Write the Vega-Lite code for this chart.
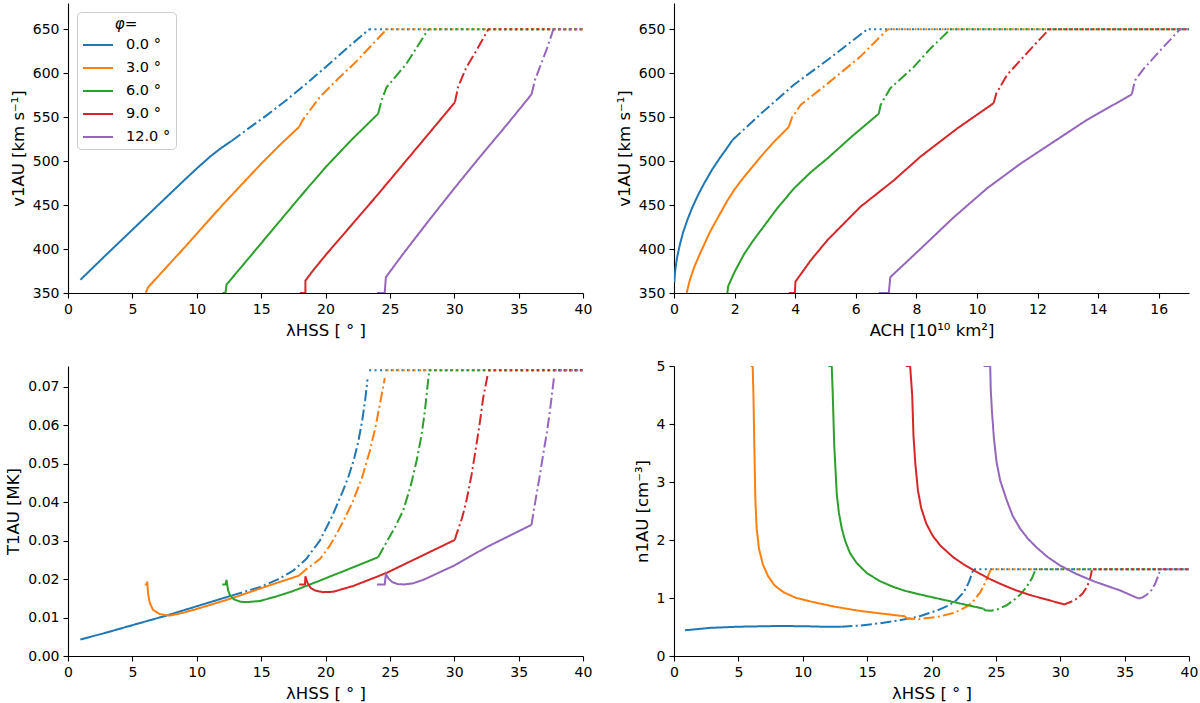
{
  "$schema": "https://vega.github.io/schema/vega-lite/v6.json",
  "padding": {"left": 5, "top": 3, "right": 0, "bottom": 0},
  "background": "white",
  "data": {"values": [
    {"p":"v","s":"0.0 °","k":"solid","x":0.96,"y":365},{"p":"v","s":"0.0 °","k":"solid","x":3,"y":394},{"p":"v","s":"0.0 °","k":"solid","x":5,"y":422},{"p":"v","s":"0.0 °","k":"solid","x":7,"y":450},{"p":"v","s":"0.0 °","k":"solid","x":9,"y":478},{"p":"v","s":"0.0 °","k":"solid","x":10.1,"y":493},{"p":"v","s":"0.0 °","k":"solid","x":11.1,"y":506},{"p":"v","s":"0.0 °","k":"solid","x":11.9,"y":515},{"p":"v","s":"0.0 °","k":"solid","x":12.7,"y":523},
    {"p":"v","s":"0.0 °","k":"dashdot","x":12.7,"y":523},{"p":"v","s":"0.0 °","k":"dashdot","x":14,"y":537},{"p":"v","s":"0.0 °","k":"dashdot","x":15.5,"y":553},{"p":"v","s":"0.0 °","k":"dashdot","x":17,"y":570},{"p":"v","s":"0.0 °","k":"dashdot","x":18.5,"y":588},{"p":"v","s":"0.0 °","k":"dashdot","x":20,"y":607},{"p":"v","s":"0.0 °","k":"dashdot","x":21.7,"y":629},{"p":"v","s":"0.0 °","k":"dashdot","x":23.39,"y":650},
    {"p":"v","s":"0.0 °","k":"dotted","x":23.39,"y":650},{"p":"v","s":"0.0 °","k":"dotted","x":40,"y":650},
    {"p":"v","s":"3.0 °","k":"solid","x":6.04,"y":350},{"p":"v","s":"3.0 °","k":"solid","x":6.22,"y":356.5},{"p":"v","s":"3.0 °","k":"solid","x":7,"y":369},{"p":"v","s":"3.0 °","k":"solid","x":9,"y":401},{"p":"v","s":"3.0 °","k":"solid","x":12.05,"y":451},{"p":"v","s":"3.0 °","k":"solid","x":15,"y":497},{"p":"v","s":"3.0 °","k":"solid","x":16.5,"y":519},{"p":"v","s":"3.0 °","k":"solid","x":17.95,"y":539},
    {"p":"v","s":"3.0 °","k":"dashdot","x":17.95,"y":539},{"p":"v","s":"3.0 °","k":"dashdot","x":18.2,"y":546},{"p":"v","s":"3.0 °","k":"dashdot","x":18.39,"y":550},{"p":"v","s":"3.0 °","k":"dashdot","x":19.56,"y":573},{"p":"v","s":"3.0 °","k":"dashdot","x":21,"y":594},{"p":"v","s":"3.0 °","k":"dashdot","x":22.5,"y":615},{"p":"v","s":"3.0 °","k":"dashdot","x":24.74,"y":650},
    {"p":"v","s":"3.0 °","k":"dotted","x":24.74,"y":650},{"p":"v","s":"3.0 °","k":"dotted","x":40,"y":650},
    {"p":"v","s":"6.0 °","k":"solid","x":12.0,"y":350},{"p":"v","s":"6.0 °","k":"solid","x":12.23,"y":350},{"p":"v","s":"6.0 °","k":"solid","x":12.31,"y":359.5},{"p":"v","s":"6.0 °","k":"solid","x":14,"y":389},{"p":"v","s":"6.0 °","k":"solid","x":16,"y":424},{"p":"v","s":"6.0 °","k":"solid","x":18,"y":459},{"p":"v","s":"6.0 °","k":"solid","x":20,"y":493},{"p":"v","s":"6.0 °","k":"solid","x":22,"y":524},{"p":"v","s":"6.0 °","k":"solid","x":24.09,"y":554},
    {"p":"v","s":"6.0 °","k":"dashdot","x":24.09,"y":554},{"p":"v","s":"6.0 °","k":"dashdot","x":24.35,"y":569},{"p":"v","s":"6.0 °","k":"dashdot","x":24.74,"y":584},{"p":"v","s":"6.0 °","k":"dashdot","x":26.29,"y":611},{"p":"v","s":"6.0 °","k":"dashdot","x":27.98,"y":650},
    {"p":"v","s":"6.0 °","k":"dotted","x":27.98,"y":650},{"p":"v","s":"6.0 °","k":"dotted","x":40,"y":650},
    {"p":"v","s":"9.0 °","k":"solid","x":18.0,"y":350},{"p":"v","s":"9.0 °","k":"solid","x":18.44,"y":350},{"p":"v","s":"9.0 °","k":"solid","x":18.44,"y":364},{"p":"v","s":"9.0 °","k":"solid","x":19,"y":375},{"p":"v","s":"9.0 °","k":"solid","x":20,"y":393},{"p":"v","s":"9.0 °","k":"solid","x":22,"y":427},{"p":"v","s":"9.0 °","k":"solid","x":24,"y":461},{"p":"v","s":"9.0 °","k":"solid","x":26,"y":496},{"p":"v","s":"9.0 °","k":"solid","x":28,"y":531},{"p":"v","s":"9.0 °","k":"solid","x":30.05,"y":567},
    {"p":"v","s":"9.0 °","k":"dashdot","x":30.05,"y":567},{"p":"v","s":"9.0 °","k":"dashdot","x":30.31,"y":585},{"p":"v","s":"9.0 °","k":"dashdot","x":30.95,"y":607},{"p":"v","s":"9.0 °","k":"dashdot","x":31.8,"y":628},{"p":"v","s":"9.0 °","k":"dashdot","x":32.64,"y":650},
    {"p":"v","s":"9.0 °","k":"dotted","x":32.64,"y":650},{"p":"v","s":"9.0 °","k":"dotted","x":40,"y":650},
    {"p":"v","s":"12.0 °","k":"solid","x":24.0,"y":350},{"p":"v","s":"12.0 °","k":"solid","x":24.6,"y":350},{"p":"v","s":"12.0 °","k":"solid","x":24.69,"y":368},{"p":"v","s":"12.0 °","k":"solid","x":26,"y":394},{"p":"v","s":"12.0 °","k":"solid","x":28,"y":432},{"p":"v","s":"12.0 °","k":"solid","x":30,"y":469},{"p":"v","s":"12.0 °","k":"solid","x":32,"y":505},{"p":"v","s":"12.0 °","k":"solid","x":34,"y":540},{"p":"v","s":"12.0 °","k":"solid","x":36.0,"y":576},
    {"p":"v","s":"12.0 °","k":"dashdot","x":36.0,"y":576},{"p":"v","s":"12.0 °","k":"dashdot","x":36.26,"y":592},{"p":"v","s":"12.0 °","k":"dashdot","x":36.65,"y":607},{"p":"v","s":"12.0 °","k":"dashdot","x":37.2,"y":628},{"p":"v","s":"12.0 °","k":"dashdot","x":37.7,"y":650},
    {"p":"v","s":"12.0 °","k":"dotted","x":37.7,"y":650},{"p":"v","s":"12.0 °","k":"dotted","x":40,"y":650},

    {"p":"a","s":"0.0 °","k":"solid","x":0.01,"y":362},{"p":"a","s":"0.0 °","k":"solid","x":0.03,"y":372},{"p":"a","s":"0.0 °","k":"solid","x":0.06,"y":381},{"p":"a","s":"0.0 °","k":"solid","x":0.1,"y":390},{"p":"a","s":"0.0 °","k":"solid","x":0.2,"y":406},{"p":"a","s":"0.0 °","k":"solid","x":0.3,"y":419},{"p":"a","s":"0.0 °","k":"solid","x":0.45,"y":434},{"p":"a","s":"0.0 °","k":"solid","x":0.6,"y":447},{"p":"a","s":"0.0 °","k":"solid","x":0.8,"y":462},{"p":"a","s":"0.0 °","k":"solid","x":1.0,"y":475},{"p":"a","s":"0.0 °","k":"solid","x":1.25,"y":490},{"p":"a","s":"0.0 °","k":"solid","x":1.5,"y":503},{"p":"a","s":"0.0 °","k":"solid","x":1.75,"y":515},{"p":"a","s":"0.0 °","k":"solid","x":1.93,"y":524},
    {"p":"a","s":"0.0 °","k":"dashdot","x":1.93,"y":524},{"p":"a","s":"0.0 °","k":"dashdot","x":2.9,"y":555},{"p":"a","s":"0.0 °","k":"dashdot","x":3.96,"y":587},{"p":"a","s":"0.0 °","k":"dashdot","x":5.1,"y":616},{"p":"a","s":"0.0 °","k":"dashdot","x":6.3,"y":648},{"p":"a","s":"0.0 °","k":"dashdot","x":6.43,"y":650},
    {"p":"a","s":"0.0 °","k":"dotted","x":6.43,"y":650},{"p":"a","s":"0.0 °","k":"dotted","x":17,"y":650},
    {"p":"a","s":"3.0 °","k":"solid","x":0.42,"y":350},{"p":"a","s":"3.0 °","k":"solid","x":0.5,"y":362},{"p":"a","s":"3.0 °","k":"solid","x":0.66,"y":379},{"p":"a","s":"3.0 °","k":"solid","x":0.9,"y":398},{"p":"a","s":"3.0 °","k":"solid","x":1.21,"y":421},{"p":"a","s":"3.0 °","k":"solid","x":1.5,"y":439},{"p":"a","s":"3.0 °","k":"solid","x":1.76,"y":455},{"p":"a","s":"3.0 °","k":"solid","x":2.0,"y":468},{"p":"a","s":"3.0 °","k":"solid","x":2.31,"y":482},{"p":"a","s":"3.0 °","k":"solid","x":2.6,"y":494},{"p":"a","s":"3.0 °","k":"solid","x":2.86,"y":505},{"p":"a","s":"3.0 °","k":"solid","x":3.3,"y":522},{"p":"a","s":"3.0 °","k":"solid","x":3.79,"y":539},
    {"p":"a","s":"3.0 °","k":"dashdot","x":3.79,"y":539},{"p":"a","s":"3.0 °","k":"dashdot","x":3.9,"y":550},{"p":"a","s":"3.0 °","k":"dashdot","x":4.18,"y":564},{"p":"a","s":"3.0 °","k":"dashdot","x":5.06,"y":588},{"p":"a","s":"3.0 °","k":"dashdot","x":6.15,"y":619},{"p":"a","s":"3.0 °","k":"dashdot","x":7.05,"y":650},
    {"p":"a","s":"3.0 °","k":"dotted","x":7.05,"y":650},{"p":"a","s":"3.0 °","k":"dotted","x":17,"y":650},
    {"p":"a","s":"6.0 °","k":"solid","x":1.76,"y":350},{"p":"a","s":"6.0 °","k":"solid","x":1.79,"y":358},{"p":"a","s":"6.0 °","k":"solid","x":2.0,"y":374},{"p":"a","s":"6.0 °","k":"solid","x":2.31,"y":394},{"p":"a","s":"6.0 °","k":"solid","x":2.6,"y":409},{"p":"a","s":"6.0 °","k":"solid","x":2.86,"y":421},{"p":"a","s":"6.0 °","k":"solid","x":3.4,"y":446},{"p":"a","s":"6.0 °","k":"solid","x":3.96,"y":469},{"p":"a","s":"6.0 °","k":"solid","x":4.5,"y":487},{"p":"a","s":"6.0 °","k":"solid","x":5.06,"y":503},{"p":"a","s":"6.0 °","k":"solid","x":5.9,"y":529},{"p":"a","s":"6.0 °","k":"solid","x":6.76,"y":554},
    {"p":"a","s":"6.0 °","k":"dashdot","x":6.76,"y":554},{"p":"a","s":"6.0 °","k":"dashdot","x":6.82,"y":564},{"p":"a","s":"6.0 °","k":"dashdot","x":7.14,"y":583},{"p":"a","s":"6.0 °","k":"dashdot","x":7.91,"y":607},{"p":"a","s":"6.0 °","k":"dashdot","x":8.46,"y":628},{"p":"a","s":"6.0 °","k":"dashdot","x":9.12,"y":650},
    {"p":"a","s":"6.0 °","k":"dotted","x":9.12,"y":650},{"p":"a","s":"6.0 °","k":"dotted","x":17,"y":650},
    {"p":"a","s":"9.0 °","k":"solid","x":3.79,"y":350},{"p":"a","s":"9.0 °","k":"solid","x":3.99,"y":350},{"p":"a","s":"9.0 °","k":"solid","x":4.01,"y":363},{"p":"a","s":"9.0 °","k":"solid","x":4.51,"y":387},{"p":"a","s":"9.0 °","k":"solid","x":5.06,"y":410},{"p":"a","s":"9.0 °","k":"solid","x":6.15,"y":448},{"p":"a","s":"9.0 °","k":"solid","x":7.25,"y":478},{"p":"a","s":"9.0 °","k":"solid","x":8.13,"y":505},{"p":"a","s":"9.0 °","k":"solid","x":9.34,"y":537},{"p":"a","s":"9.0 °","k":"solid","x":10.55,"y":566},
    {"p":"a","s":"9.0 °","k":"dashdot","x":10.55,"y":566},{"p":"a","s":"9.0 °","k":"dashdot","x":10.64,"y":577},{"p":"a","s":"9.0 °","k":"dashdot","x":10.99,"y":598},{"p":"a","s":"9.0 °","k":"dashdot","x":11.65,"y":623},{"p":"a","s":"9.0 °","k":"dashdot","x":12.38,"y":650},
    {"p":"a","s":"9.0 °","k":"dotted","x":12.38,"y":650},{"p":"a","s":"9.0 °","k":"dotted","x":17,"y":650},
    {"p":"a","s":"12.0 °","k":"solid","x":6.76,"y":350},{"p":"a","s":"12.0 °","k":"solid","x":7.09,"y":350},{"p":"a","s":"12.0 °","k":"solid","x":7.14,"y":368},{"p":"a","s":"12.0 °","k":"solid","x":8.13,"y":400},{"p":"a","s":"12.0 °","k":"solid","x":9.23,"y":436},{"p":"a","s":"12.0 °","k":"solid","x":10.33,"y":469},{"p":"a","s":"12.0 °","k":"solid","x":11.43,"y":497},{"p":"a","s":"12.0 °","k":"solid","x":12.53,"y":522},{"p":"a","s":"12.0 °","k":"solid","x":13.63,"y":547},{"p":"a","s":"12.0 °","k":"solid","x":15.11,"y":576},
    {"p":"a","s":"12.0 °","k":"dashdot","x":15.11,"y":576},{"p":"a","s":"12.0 °","k":"dashdot","x":15.22,"y":592},{"p":"a","s":"12.0 °","k":"dashdot","x":15.5,"y":605},{"p":"a","s":"12.0 °","k":"dashdot","x":16.05,"y":626},{"p":"a","s":"12.0 °","k":"dashdot","x":16.7,"y":650},
    {"p":"a","s":"12.0 °","k":"dotted","x":16.7,"y":650},{"p":"a","s":"12.0 °","k":"dotted","x":17,"y":650},

    {"p":"t","s":"0.0 °","k":"solid","x":0.96,"y":0.0043},{"p":"t","s":"0.0 °","k":"solid","x":3,"y":0.0061},{"p":"t","s":"0.0 °","k":"solid","x":4.98,"y":0.008},{"p":"t","s":"0.0 °","k":"solid","x":7.64,"y":0.0105},{"p":"t","s":"0.0 °","k":"solid","x":9.97,"y":0.0129},{"p":"t","s":"0.0 °","k":"solid","x":12.7,"y":0.0157},
    {"p":"t","s":"0.0 °","k":"dashdot","x":12.7,"y":0.0157},{"p":"t","s":"0.0 °","k":"dashdot","x":14.9,"y":0.0179},{"p":"t","s":"0.0 °","k":"dashdot","x":16.3,"y":0.0199},{"p":"t","s":"0.0 °","k":"dashdot","x":17.49,"y":0.0222},{"p":"t","s":"0.0 °","k":"dashdot","x":18.5,"y":0.0252},{"p":"t","s":"0.0 °","k":"dashdot","x":19.56,"y":0.03},{"p":"t","s":"0.0 °","k":"dashdot","x":20.5,"y":0.0362},{"p":"t","s":"0.0 °","k":"dashdot","x":21.3,"y":0.0425},{"p":"t","s":"0.0 °","k":"dashdot","x":21.8,"y":0.0468},{"p":"t","s":"0.0 °","k":"dashdot","x":22.2,"y":0.051},{"p":"t","s":"0.0 °","k":"dashdot","x":22.55,"y":0.0558},{"p":"t","s":"0.0 °","k":"dashdot","x":22.85,"y":0.0612},{"p":"t","s":"0.0 °","k":"dashdot","x":23.08,"y":0.0665},{"p":"t","s":"0.0 °","k":"dashdot","x":23.26,"y":0.0719},
    {"p":"t","s":"0.0 °","k":"dotted","x":23.39,"y":0.0743},{"p":"t","s":"0.0 °","k":"dotted","x":40,"y":0.0743},
    {"p":"t","s":"3.0 °","k":"solid","x":5.97,"y":0.0186},{"p":"t","s":"3.0 °","k":"solid","x":6.15,"y":0.0186},{"p":"t","s":"3.0 °","k":"solid","x":6.15,"y":0.0194},{"p":"t","s":"3.0 °","k":"solid","x":6.22,"y":0.0162},{"p":"t","s":"3.0 °","k":"solid","x":6.35,"y":0.0138},{"p":"t","s":"3.0 °","k":"solid","x":6.6,"y":0.012},{"p":"t","s":"3.0 °","k":"solid","x":7.12,"y":0.0109},{"p":"t","s":"3.0 °","k":"solid","x":7.9,"y":0.0105},{"p":"t","s":"3.0 °","k":"solid","x":8.9,"y":0.0112},{"p":"t","s":"3.0 °","k":"solid","x":9.97,"y":0.0122},{"p":"t","s":"3.0 °","k":"solid","x":12.82,"y":0.0151},{"p":"t","s":"3.0 °","k":"solid","x":15.41,"y":0.0181},{"p":"t","s":"3.0 °","k":"solid","x":17.95,"y":0.0209},
    {"p":"t","s":"3.0 °","k":"dashdot","x":17.95,"y":0.0209},{"p":"t","s":"3.0 °","k":"dashdot","x":18.52,"y":0.0226},{"p":"t","s":"3.0 °","k":"dashdot","x":19.56,"y":0.0252},{"p":"t","s":"3.0 °","k":"dashdot","x":20.3,"y":0.0285},{"p":"t","s":"3.0 °","k":"dashdot","x":20.85,"y":0.0317},{"p":"t","s":"3.0 °","k":"dashdot","x":21.5,"y":0.0358},{"p":"t","s":"3.0 °","k":"dashdot","x":22.15,"y":0.0404},{"p":"t","s":"3.0 °","k":"dashdot","x":22.85,"y":0.0465},{"p":"t","s":"3.0 °","k":"dashdot","x":23.44,"y":0.0533},{"p":"t","s":"3.0 °","k":"dashdot","x":23.9,"y":0.0598},{"p":"t","s":"3.0 °","k":"dashdot","x":24.22,"y":0.0654},{"p":"t","s":"3.0 °","k":"dashdot","x":24.61,"y":0.0723},
    {"p":"t","s":"3.0 °","k":"dotted","x":24.74,"y":0.0743},{"p":"t","s":"3.0 °","k":"dotted","x":40,"y":0.0743},
    {"p":"t","s":"6.0 °","k":"solid","x":11.98,"y":0.0186},{"p":"t","s":"6.0 °","k":"solid","x":12.23,"y":0.0186},{"p":"t","s":"6.0 °","k":"solid","x":12.31,"y":0.0198},{"p":"t","s":"6.0 °","k":"solid","x":12.44,"y":0.017},{"p":"t","s":"6.0 °","k":"solid","x":12.6,"y":0.0157},{"p":"t","s":"6.0 °","k":"solid","x":12.9,"y":0.0147},{"p":"t","s":"6.0 °","k":"solid","x":13.4,"y":0.0141},{"p":"t","s":"6.0 °","k":"solid","x":13.86,"y":0.014},{"p":"t","s":"6.0 °","k":"solid","x":14.9,"y":0.0143},{"p":"t","s":"6.0 °","k":"solid","x":16.2,"y":0.0155},{"p":"t","s":"6.0 °","k":"solid","x":17.49,"y":0.0169},{"p":"t","s":"6.0 °","k":"solid","x":19.56,"y":0.0196},{"p":"t","s":"6.0 °","k":"solid","x":21.8,"y":0.0226},{"p":"t","s":"6.0 °","k":"solid","x":24.09,"y":0.0257},
    {"p":"t","s":"6.0 °","k":"dashdot","x":24.09,"y":0.0257},{"p":"t","s":"6.0 °","k":"dashdot","x":24.74,"y":0.0296},{"p":"t","s":"6.0 °","k":"dashdot","x":25.4,"y":0.0335},{"p":"t","s":"6.0 °","k":"dashdot","x":26.03,"y":0.0378},{"p":"t","s":"6.0 °","k":"dashdot","x":26.6,"y":0.044},{"p":"t","s":"6.0 °","k":"dashdot","x":27.07,"y":0.0507},{"p":"t","s":"6.0 °","k":"dashdot","x":27.45,"y":0.0572},{"p":"t","s":"6.0 °","k":"dashdot","x":27.72,"y":0.0637},{"p":"t","s":"6.0 °","k":"dashdot","x":28.05,"y":0.0741},
    {"p":"t","s":"6.0 °","k":"dotted","x":28.05,"y":0.0743},{"p":"t","s":"6.0 °","k":"dotted","x":40,"y":0.0743},
    {"p":"t","s":"9.0 °","k":"solid","x":17.95,"y":0.0186},{"p":"t","s":"9.0 °","k":"solid","x":18.4,"y":0.0186},{"p":"t","s":"9.0 °","k":"solid","x":18.44,"y":0.0207},{"p":"t","s":"9.0 °","k":"solid","x":18.6,"y":0.019},{"p":"t","s":"9.0 °","k":"solid","x":18.85,"y":0.0177},{"p":"t","s":"9.0 °","k":"solid","x":19.2,"y":0.017},{"p":"t","s":"9.0 °","k":"solid","x":19.8,"y":0.0166},{"p":"t","s":"9.0 °","k":"solid","x":20.6,"y":0.0167},{"p":"t","s":"9.0 °","k":"solid","x":22.15,"y":0.0182},{"p":"t","s":"9.0 °","k":"solid","x":24.74,"y":0.0216},{"p":"t","s":"9.0 °","k":"solid","x":27.33,"y":0.0258},{"p":"t","s":"9.0 °","k":"solid","x":30.05,"y":0.0302},
    {"p":"t","s":"9.0 °","k":"dashdot","x":30.05,"y":0.0302},{"p":"t","s":"9.0 °","k":"dashdot","x":30.18,"y":0.0317},{"p":"t","s":"9.0 °","k":"dashdot","x":30.6,"y":0.0358},{"p":"t","s":"9.0 °","k":"dashdot","x":30.95,"y":0.0404},{"p":"t","s":"9.0 °","k":"dashdot","x":31.35,"y":0.0472},{"p":"t","s":"9.0 °","k":"dashdot","x":31.73,"y":0.0551},{"p":"t","s":"9.0 °","k":"dashdot","x":32.0,"y":0.061},{"p":"t","s":"9.0 °","k":"dashdot","x":32.25,"y":0.0672},{"p":"t","s":"9.0 °","k":"dashdot","x":32.58,"y":0.0728},
    {"p":"t","s":"9.0 °","k":"dotted","x":32.64,"y":0.0743},{"p":"t","s":"9.0 °","k":"dotted","x":40,"y":0.0743},
    {"p":"t","s":"12.0 °","k":"solid","x":24.0,"y":0.0186},{"p":"t","s":"12.0 °","k":"solid","x":24.6,"y":0.0186},{"p":"t","s":"12.0 °","k":"solid","x":24.69,"y":0.0213},{"p":"t","s":"12.0 °","k":"solid","x":24.9,"y":0.0201},{"p":"t","s":"12.0 °","k":"solid","x":25.2,"y":0.0192},{"p":"t","s":"12.0 °","k":"solid","x":25.6,"y":0.0187},{"p":"t","s":"12.0 °","k":"solid","x":26.1,"y":0.0186},{"p":"t","s":"12.0 °","k":"solid","x":26.8,"y":0.0189},{"p":"t","s":"12.0 °","k":"solid","x":27.6,"y":0.0198},{"p":"t","s":"12.0 °","k":"solid","x":29.92,"y":0.0234},{"p":"t","s":"12.0 °","k":"solid","x":32.51,"y":0.0283},{"p":"t","s":"12.0 °","k":"solid","x":36.0,"y":0.0341},
    {"p":"t","s":"12.0 °","k":"dashdot","x":36.0,"y":0.0341},{"p":"t","s":"12.0 °","k":"dashdot","x":36.26,"y":0.0395},{"p":"t","s":"12.0 °","k":"dashdot","x":36.6,"y":0.046},{"p":"t","s":"12.0 °","k":"dashdot","x":36.91,"y":0.0525},{"p":"t","s":"12.0 °","k":"dashdot","x":37.2,"y":0.0582},{"p":"t","s":"12.0 °","k":"dashdot","x":37.43,"y":0.0637},{"p":"t","s":"12.0 °","k":"dashdot","x":37.76,"y":0.0728},
    {"p":"t","s":"12.0 °","k":"dotted","x":37.8,"y":0.0743},{"p":"t","s":"12.0 °","k":"dotted","x":40,"y":0.0743},

    {"p":"n","s":"0.0 °","k":"solid","x":0.85,"y":0.443},{"p":"n","s":"0.0 °","k":"solid","x":2.8,"y":0.485},{"p":"n","s":"0.0 °","k":"solid","x":5,"y":0.505},{"p":"n","s":"0.0 °","k":"solid","x":8,"y":0.517},{"p":"n","s":"0.0 °","k":"solid","x":10,"y":0.514},{"p":"n","s":"0.0 °","k":"solid","x":11.9,"y":0.503},{"p":"n","s":"0.0 °","k":"solid","x":13,"y":0.505},
    {"p":"n","s":"0.0 °","k":"dashdot","x":13,"y":0.505},{"p":"n","s":"0.0 °","k":"dashdot","x":14.46,"y":0.525},{"p":"n","s":"0.0 °","k":"dashdot","x":16,"y":0.565},{"p":"n","s":"0.0 °","k":"dashdot","x":17.5,"y":0.615},{"p":"n","s":"0.0 °","k":"dashdot","x":19,"y":0.68},{"p":"n","s":"0.0 °","k":"dashdot","x":20.5,"y":0.79},{"p":"n","s":"0.0 °","k":"dashdot","x":21.4,"y":0.88},{"p":"n","s":"0.0 °","k":"dashdot","x":21.97,"y":0.97},{"p":"n","s":"0.0 °","k":"dashdot","x":22.5,"y":1.1},{"p":"n","s":"0.0 °","k":"dashdot","x":22.9,"y":1.27},{"p":"n","s":"0.0 °","k":"dashdot","x":23.26,"y":1.494},
    {"p":"n","s":"0.0 °","k":"dotted","x":23.3,"y":1.494},{"p":"n","s":"0.0 °","k":"dotted","x":40,"y":1.494},
    {"p":"n","s":"3.0 °","k":"solid","x":5.96,"y":5},{"p":"n","s":"3.0 °","k":"solid","x":6.11,"y":5},{"p":"n","s":"3.0 °","k":"solid","x":6.17,"y":4.5},{"p":"n","s":"3.0 °","k":"solid","x":6.25,"y":3.5},{"p":"n","s":"3.0 °","k":"solid","x":6.32,"y":2.7},{"p":"n","s":"3.0 °","k":"solid","x":6.42,"y":2.2},{"p":"n","s":"3.0 °","k":"solid","x":6.6,"y":1.85},{"p":"n","s":"3.0 °","k":"solid","x":6.9,"y":1.58},{"p":"n","s":"3.0 °","k":"solid","x":7.3,"y":1.38},{"p":"n","s":"3.0 °","k":"solid","x":7.8,"y":1.22},{"p":"n","s":"3.0 °","k":"solid","x":8.5,"y":1.1},{"p":"n","s":"3.0 °","k":"solid","x":9.5,"y":1.0},{"p":"n","s":"3.0 °","k":"solid","x":11,"y":0.92},{"p":"n","s":"3.0 °","k":"solid","x":12.5,"y":0.85},{"p":"n","s":"3.0 °","k":"solid","x":14.46,"y":0.776},{"p":"n","s":"3.0 °","k":"solid","x":16.2,"y":0.73},{"p":"n","s":"3.0 °","k":"solid","x":17.95,"y":0.684},
    {"p":"n","s":"3.0 °","k":"dashdot","x":17.95,"y":0.684},{"p":"n","s":"3.0 °","k":"dashdot","x":18.1,"y":0.645},{"p":"n","s":"3.0 °","k":"dashdot","x":19.0,"y":0.635},{"p":"n","s":"3.0 °","k":"dashdot","x":20.5,"y":0.675},{"p":"n","s":"3.0 °","k":"dashdot","x":21.7,"y":0.74},{"p":"n","s":"3.0 °","k":"dashdot","x":22.3,"y":0.8},{"p":"n","s":"3.0 °","k":"dashdot","x":22.8,"y":0.86},{"p":"n","s":"3.0 °","k":"dashdot","x":23.3,"y":0.96},{"p":"n","s":"3.0 °","k":"dashdot","x":23.8,"y":1.1},{"p":"n","s":"3.0 °","k":"dashdot","x":24.2,"y":1.28},{"p":"n","s":"3.0 °","k":"dashdot","x":24.6,"y":1.49},
    {"p":"n","s":"3.0 °","k":"dotted","x":24.7,"y":1.494},{"p":"n","s":"3.0 °","k":"dotted","x":40,"y":1.494},
    {"p":"n","s":"6.0 °","k":"solid","x":11.99,"y":5},{"p":"n","s":"6.0 °","k":"solid","x":12.25,"y":5},{"p":"n","s":"6.0 °","k":"solid","x":12.33,"y":4.52},{"p":"n","s":"6.0 °","k":"solid","x":12.44,"y":3.66},{"p":"n","s":"6.0 °","k":"solid","x":12.64,"y":2.8},{"p":"n","s":"6.0 °","k":"solid","x":12.8,"y":2.48},{"p":"n","s":"6.0 °","k":"solid","x":13.03,"y":2.2},{"p":"n","s":"6.0 °","k":"solid","x":13.3,"y":1.98},{"p":"n","s":"6.0 °","k":"solid","x":13.68,"y":1.77},{"p":"n","s":"6.0 °","k":"solid","x":14.2,"y":1.6},{"p":"n","s":"6.0 °","k":"solid","x":14.97,"y":1.43},{"p":"n","s":"6.0 °","k":"solid","x":16,"y":1.29},{"p":"n","s":"6.0 °","k":"solid","x":17.05,"y":1.19},{"p":"n","s":"6.0 °","k":"solid","x":18,"y":1.12},{"p":"n","s":"6.0 °","k":"solid","x":19.12,"y":1.06},{"p":"n","s":"6.0 °","k":"solid","x":21.71,"y":0.93},{"p":"n","s":"6.0 °","k":"solid","x":24.04,"y":0.816},
    {"p":"n","s":"6.0 °","k":"dashdot","x":24.04,"y":0.816},{"p":"n","s":"6.0 °","k":"dashdot","x":24.17,"y":0.787},{"p":"n","s":"6.0 °","k":"dashdot","x":24.6,"y":0.78},{"p":"n","s":"6.0 °","k":"dashdot","x":25.08,"y":0.8},{"p":"n","s":"6.0 °","k":"dashdot","x":25.8,"y":0.87},{"p":"n","s":"6.0 °","k":"dashdot","x":26.37,"y":0.96},{"p":"n","s":"6.0 °","k":"dashdot","x":26.9,"y":1.06},{"p":"n","s":"6.0 °","k":"dashdot","x":27.41,"y":1.2},{"p":"n","s":"6.0 °","k":"dashdot","x":27.8,"y":1.34},{"p":"n","s":"6.0 °","k":"dashdot","x":28.06,"y":1.48},
    {"p":"n","s":"6.0 °","k":"dotted","x":28.06,"y":1.494},{"p":"n","s":"6.0 °","k":"dotted","x":40,"y":1.494},
    {"p":"n","s":"9.0 °","k":"solid","x":18.0,"y":5},{"p":"n","s":"9.0 °","k":"solid","x":18.34,"y":5},{"p":"n","s":"9.0 °","k":"solid","x":18.5,"y":4.5},{"p":"n","s":"9.0 °","k":"solid","x":18.6,"y":3.8},{"p":"n","s":"9.0 °","k":"solid","x":18.75,"y":3.3},{"p":"n","s":"9.0 °","k":"solid","x":18.95,"y":2.85},{"p":"n","s":"9.0 °","k":"solid","x":19.2,"y":2.55},{"p":"n","s":"9.0 °","k":"solid","x":19.6,"y":2.28},{"p":"n","s":"9.0 °","k":"solid","x":20.1,"y":2.07},{"p":"n","s":"9.0 °","k":"solid","x":20.7,"y":1.9},{"p":"n","s":"9.0 °","k":"solid","x":21.7,"y":1.7},{"p":"n","s":"9.0 °","k":"solid","x":22.5,"y":1.58},{"p":"n","s":"9.0 °","k":"solid","x":23.5,"y":1.45},{"p":"n","s":"9.0 °","k":"solid","x":24.5,"y":1.33},{"p":"n","s":"9.0 °","k":"solid","x":25.6,"y":1.22},{"p":"n","s":"9.0 °","k":"solid","x":26.6,"y":1.13},{"p":"n","s":"9.0 °","k":"solid","x":27.67,"y":1.05},{"p":"n","s":"9.0 °","k":"solid","x":29,"y":0.97},{"p":"n","s":"9.0 °","k":"solid","x":30.13,"y":0.9},
    {"p":"n","s":"9.0 °","k":"dashdot","x":30.13,"y":0.9},{"p":"n","s":"9.0 °","k":"dashdot","x":30.3,"y":0.89},{"p":"n","s":"9.0 °","k":"dashdot","x":30.8,"y":0.93},{"p":"n","s":"9.0 °","k":"dashdot","x":31.3,"y":0.99},{"p":"n","s":"9.0 °","k":"dashdot","x":31.75,"y":1.08},{"p":"n","s":"9.0 °","k":"dashdot","x":32.07,"y":1.19},{"p":"n","s":"9.0 °","k":"dashdot","x":32.3,"y":1.32},{"p":"n","s":"9.0 °","k":"dashdot","x":32.46,"y":1.48},
    {"p":"n","s":"9.0 °","k":"dotted","x":32.6,"y":1.494},{"p":"n","s":"9.0 °","k":"dotted","x":40,"y":1.494},
    {"p":"n","s":"12.0 °","k":"solid","x":24.04,"y":5},{"p":"n","s":"12.0 °","k":"solid","x":24.56,"y":5},{"p":"n","s":"12.0 °","k":"solid","x":24.6,"y":4.6},{"p":"n","s":"12.0 °","k":"solid","x":24.7,"y":4.2},{"p":"n","s":"12.0 °","k":"solid","x":24.85,"y":3.75},{"p":"n","s":"12.0 °","k":"solid","x":25.05,"y":3.35},{"p":"n","s":"12.0 °","k":"solid","x":25.33,"y":3.03},{"p":"n","s":"12.0 °","k":"solid","x":25.85,"y":2.68},{"p":"n","s":"12.0 °","k":"solid","x":26.3,"y":2.42},{"p":"n","s":"12.0 °","k":"solid","x":26.87,"y":2.2},{"p":"n","s":"12.0 °","k":"solid","x":27.5,"y":2.02},{"p":"n","s":"12.0 °","k":"solid","x":28.17,"y":1.87},{"p":"n","s":"12.0 °","k":"solid","x":29,"y":1.71},{"p":"n","s":"12.0 °","k":"solid","x":29.99,"y":1.56},{"p":"n","s":"12.0 °","k":"solid","x":31.2,"y":1.42},{"p":"n","s":"12.0 °","k":"solid","x":32.58,"y":1.29},{"p":"n","s":"12.0 °","k":"solid","x":34.65,"y":1.13},{"p":"n","s":"12.0 °","k":"solid","x":36.09,"y":0.99},
    {"p":"n","s":"12.0 °","k":"dashdot","x":36.09,"y":0.99},{"p":"n","s":"12.0 °","k":"dashdot","x":36.4,"y":1.01},{"p":"n","s":"12.0 °","k":"dashdot","x":36.74,"y":1.06},{"p":"n","s":"12.0 °","k":"dashdot","x":37.1,"y":1.14},{"p":"n","s":"12.0 °","k":"dashdot","x":37.38,"y":1.25},{"p":"n","s":"12.0 °","k":"dashdot","x":37.72,"y":1.45},
    {"p":"n","s":"12.0 °","k":"dotted","x":37.8,"y":1.494},{"p":"n","s":"12.0 °","k":"dotted","x":40,"y":1.494}
  ]},
  "columns": 2,
  "bounds": "flush",
  "spacing": {"row": 73, "column": 91},
  "resolve": {"legend": {"color": "independent"}},
  "concat": [
    {
      "width": 515, "height": 290,
      "transform": [{"filter": "datum.p == 'v'"}],
      "mark": {"type": "line", "strokeWidth": 2, "clip": true},
      "encoding": {
        "x": {"field": "x", "type": "quantitative", "scale": {"domain": [0, 40], "nice": false, "zero": false},
              "axis": {"values": [0, 5, 10, 15, 20, 25, 30, 35, 40], "title": "λHSS [ ° ]"}},
        "y": {"field": "y", "type": "quantitative", "scale": {"domain": [350, 680], "nice": false, "zero": false},
              "axis": {"values": [350, 400, 450, 500, 550, 600, 650], "title": "v1AU [km s⁻¹]"}},
        "color": {"field": "s", "type": "nominal",
                  "scale": {"domain": ["0.0 °", "3.0 °", "6.0 °", "9.0 °", "12.0 °"], "range": ["#1f77b4", "#ff7f0e", "#2ca02c", "#d62728", "#9467bd"]},
                  "legend": {"title": "φ=", "orient": "top-left", "offset": 9, "padding": 5,
                             "titleFontStyle": "italic", "titleFontWeight": "normal", "titleFontSize": 15, "titleColor": "black",
                             "titleAnchor": "middle", "titlePadding": -3,
                             "labelFontSize": 14.5, "labelColor": "black", "labelOffset": 12,
                             "symbolType": "stroke", "symbolSize": 900, "symbolStrokeWidth": 2, "rowPadding": 0,
                             "fillColor": "rgba(255,255,255,0.8)", "strokeColor": "#cccccc", "cornerRadius": 4}},
        "strokeDash": {"field": "k", "type": "nominal",
                       "scale": {"domain": ["solid", "dashdot", "dotted"], "range": [[1, 0], [11, 3.3, 2, 3.3], [2, 3.4]]},
                       "legend": null},
        "order": {"value": null}
      }
    },
    {
      "width": 515, "height": 290,
      "transform": [{"filter": "datum.p == 'a'"}],
      "mark": {"type": "line", "strokeWidth": 2, "clip": true},
      "encoding": {
        "x": {"field": "x", "type": "quantitative", "scale": {"domain": [0, 17], "nice": false, "zero": false},
              "axis": {"values": [0, 2, 4, 6, 8, 10, 12, 14, 16], "title": "ACH [10¹⁰ km²]"}},
        "y": {"field": "y", "type": "quantitative", "scale": {"domain": [350, 680], "nice": false, "zero": false},
              "axis": {"values": [350, 400, 450, 500, 550, 600, 650], "title": "v1AU [km s⁻¹]"}},
        "color": {"field": "s", "type": "nominal",
                  "scale": {"domain": ["0.0 °", "3.0 °", "6.0 °", "9.0 °", "12.0 °"], "range": ["#1f77b4", "#ff7f0e", "#2ca02c", "#d62728", "#9467bd"]},
                  "legend": null},
        "strokeDash": {"field": "k", "type": "nominal",
                       "scale": {"domain": ["solid", "dashdot", "dotted"], "range": [[1, 0], [11, 3.3, 2, 3.3], [2, 3.4]]},
                       "legend": null},
        "order": {"value": null}
      }
    },
    {
      "width": 515, "height": 290,
      "transform": [{"filter": "datum.p == 't'"}],
      "mark": {"type": "line", "strokeWidth": 2, "clip": true},
      "encoding": {
        "x": {"field": "x", "type": "quantitative", "scale": {"domain": [0, 40], "nice": false, "zero": false},
              "axis": {"values": [0, 5, 10, 15, 20, 25, 30, 35, 40], "title": "λHSS [ ° ]"}},
        "y": {"field": "y", "type": "quantitative", "scale": {"domain": [0, 0.0754], "nice": false, "zero": false},
              "axis": {"values": [0, 0.01, 0.02, 0.03, 0.04, 0.05, 0.06, 0.07], "format": ".2f", "title": "T1AU [MK]"}},
        "color": {"field": "s", "type": "nominal",
                  "scale": {"domain": ["0.0 °", "3.0 °", "6.0 °", "9.0 °", "12.0 °"], "range": ["#1f77b4", "#ff7f0e", "#2ca02c", "#d62728", "#9467bd"]},
                  "legend": null},
        "strokeDash": {"field": "k", "type": "nominal",
                       "scale": {"domain": ["solid", "dashdot", "dotted"], "range": [[1, 0], [11, 3.3, 2, 3.3], [2, 3.4]]},
                       "legend": null},
        "order": {"value": null}
      }
    },
    {
      "width": 515, "height": 290,
      "transform": [{"filter": "datum.p == 'n'"}],
      "mark": {"type": "line", "strokeWidth": 2, "clip": true},
      "encoding": {
        "x": {"field": "x", "type": "quantitative", "scale": {"domain": [0, 40], "nice": false, "zero": false},
              "axis": {"values": [0, 5, 10, 15, 20, 25, 30, 35, 40], "title": "λHSS [ ° ]"}},
        "y": {"field": "y", "type": "quantitative", "scale": {"domain": [0, 5], "nice": false, "zero": false},
              "axis": {"values": [0, 1, 2, 3, 4, 5], "title": "n1AU [cm⁻³]"}},
        "color": {"field": "s", "type": "nominal",
                  "scale": {"domain": ["0.0 °", "3.0 °", "6.0 °", "9.0 °", "12.0 °"], "range": ["#1f77b4", "#ff7f0e", "#2ca02c", "#d62728", "#9467bd"]},
                  "legend": null},
        "strokeDash": {"field": "k", "type": "nominal",
                       "scale": {"domain": ["solid", "dashdot", "dotted"], "range": [[1, 0], [11, 3.3, 2, 3.3], [2, 3.4]]},
                       "legend": null},
        "order": {"value": null}
      }
    }
  ],
  "config": {
    "font": "DejaVu Sans",
    "view": {"stroke": null},
    "axis": {
      "grid": false,
      "domainColor": "black", "domainWidth": 1.1,
      "tickColor": "black", "tickWidth": 1.1, "tickSize": 5,
      "labelFontSize": 14, "labelColor": "black", "labelPadding": 4, "labelFlush": false, "labelOverlap": false,
      "titleFontSize": 16.5, "titleFontWeight": "normal", "titleColor": "black", "titlePadding": 6
    }
  }
}
